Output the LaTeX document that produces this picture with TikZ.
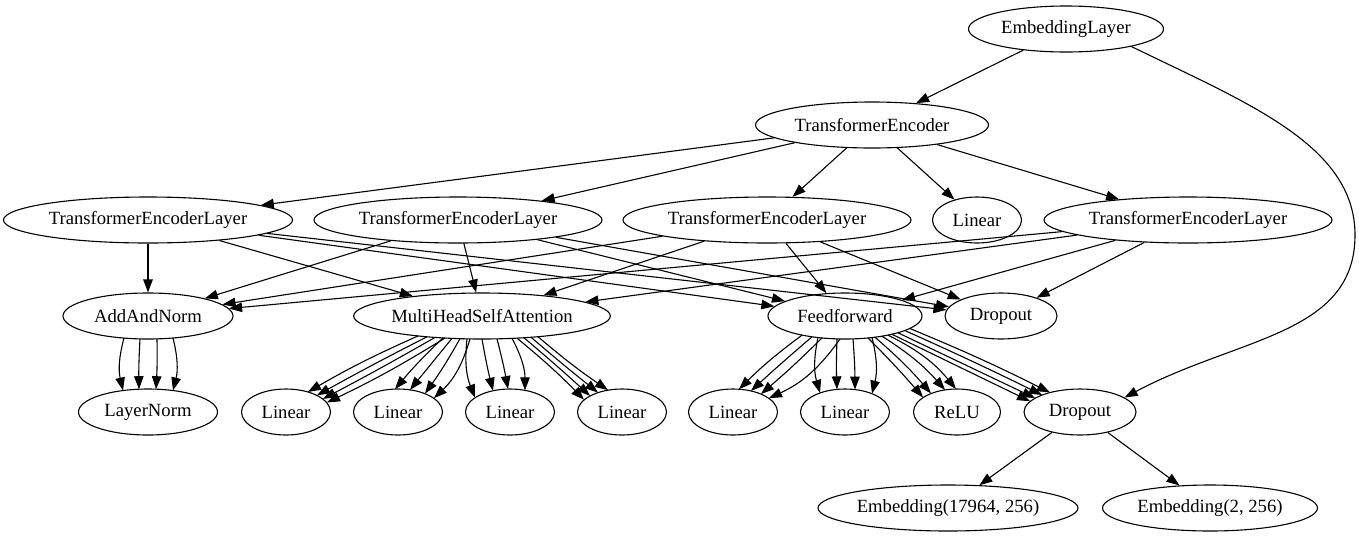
\documentclass[tikz,border=0pt]{standalone}
\usepackage{fontspec}
\setmainfont{Liberation Serif}
\usetikzlibrary{shapes.geometric,arrows.meta,calc}

\tikzset{
  gnode/.style={ellipse, draw, line width=1.1pt, inner sep=0pt,
    minimum height=46pt, font=\fontsize{18.67}{20}\selectfont},
  link/.style={line width=1.1pt, -{Triangle[length=13pt,width=9.5pt]}},
}

% One of several parallel edges between two stacked nodes:
% #1 source, #2 x offset on its lower border, #3 target,
% #4 x offset on its upper border, #5 bend angle.
\newcommand\fan[5]{%
  \draw[link] let \p1=(#1.center), \p2=(#1.east), \p3=(#3.center), \p4=(#3.east),
      \n1={23*sqrt(max(0,1-((#2)/(\x2-\x1))^2))},
      \n2={23*sqrt(max(0,1-((#4)/(\x4-\x3))^2))}
    in ({\x1+(#2pt)},{\y1-\n1}) to[bend left=#5] ({\x3+(#4pt)},{\y3+\n2});}

\begin{document}
\begin{tikzpicture}[x=1pt,y=-1pt]
\fill[white] (0,0) rectangle (1359,539);
\useasboundingbox (0,0) rectangle (1359,539);

% modules
\node[gnode, minimum width=195pt] (emb)  at (1066,29)  {EmbeddingLayer};
\node[gnode, minimum width=233pt] (enc)  at (872,125)  {TransformerEncoder};
\node[gnode, minimum width=289pt] (tel1) at (148,220)  {TransformerEncoderLayer};
\node[gnode, minimum width=288pt] (tel2) at (458,220)  {TransformerEncoderLayer};
\node[gnode, minimum width=288pt] (tel3) at (767,220)  {TransformerEncoderLayer};
\node[gnode, minimum width=89pt]  (lin0) at (977,220)  {Linear};
\node[gnode, minimum width=288pt] (tel4) at (1188,220) {TransformerEncoderLayer};
\node[gnode, minimum width=170pt] (an)   at (148,316)  {AddAndNorm};
\node[gnode, minimum width=255pt] (mhsa) at (482,316)  {MultiHeadSelfAttention};
\node[gnode, minimum width=154pt] (ff)   at (845,316)  {Feedforward};
\node[gnode, minimum width=112pt] (dropA) at (1001,316) {Dropout};
\node[gnode, minimum width=139pt] (ln)   at (148,412)  {LayerNorm};
\node[gnode, minimum width=89pt]  (l1)   at (286,412)  {Linear};
\node[gnode, minimum width=89pt]  (l2)   at (398,412)  {Linear};
\node[gnode, minimum width=89pt]  (l3)   at (510,412)  {Linear};
\node[gnode, minimum width=89pt]  (l4)   at (622,412)  {Linear};
\node[gnode, minimum width=89pt]  (l5)   at (733,412)  {Linear};
\node[gnode, minimum width=89pt]  (l6)   at (845,412)  {Linear};
\node[gnode, minimum width=87pt]  (relu) at (957,412)  {ReLU};
\node[gnode, minimum width=112pt] (dropB) at (1080,412) {Dropout};
\node[gnode, minimum width=260pt] (e1)   at (948,508)  {Embedding(17964, 256)};
\node[gnode, minimum width=215pt] (e2)   at (1210,508) {Embedding(2, 256)};

% top level
\draw[link] (emb) -- (enc);
\draw[link] (emb.-15) .. controls (1247,103) and (1355,145) .. (1355,235)
  .. controls (1355,335) and (1238,337) .. (dropB.18);
\foreach \t in {tel1,tel2,tel3,lin0,tel4} \draw[link] (enc) -- (\t);

% encoder layers
\foreach \s in {tel1,tel2,tel3,tel4}
  \foreach \t in {an,mhsa,ff,dropA}
    \draw[link] (\s) -- (\t);

% embedding dropout
\draw[link] (dropB) -- (e1);
\draw[link] (dropB) -- (e2);

% add & norm
\fan{an}{-24}{ln}{-25}{-14}
\fan{an}{-8}{ln}{-9}{-2}
\fan{an}{9}{ln}{8}{2}
\fan{an}{25}{ln}{25}{14}

% attention projections
\fan{mhsa}{-64}{l1}{22}{-3}
\fan{mhsa}{-55}{l1}{31}{-1}
\fan{mhsa}{-47}{l1}{37}{1}
\fan{mhsa}{-37}{l1}{41}{3}
\fan{mhsa}{-39}{l2}{-3}{-3}
\fan{mhsa}{-30}{l2}{12}{0}
\fan{mhsa}{-22}{l2}{27}{3}
\fan{mhsa}{-12}{l2}{36}{15}
\fan{mhsa}{-15}{l3}{-35}{-14}
\fan{mhsa}{0}{l3}{-17}{-2}
\fan{mhsa}{15}{l3}{-2}{2}
\fan{mhsa}{30}{l3}{15}{14}
\fan{mhsa}{35}{l4}{-38}{3}
\fan{mhsa}{42}{l4}{-32}{1}
\fan{mhsa}{49}{l4}{-24}{-1}
\fan{mhsa}{56}{l4}{-14}{-3}

% feed-forward block
\fan{ff}{-43}{l5}{6}{-4}
\fan{ff}{-33}{l5}{18}{-1}
\fan{ff}{-23}{l5}{28}{2}
\fan{ff}{-5}{l5}{36}{15}
\fan{ff}{-27}{l6}{-25}{-14}
\fan{ff}{-8}{l6}{-8}{-2}
\fan{ff}{8}{l6}{10}{2}
\fan{ff}{27}{l6}{27}{14}
\fan{ff}{23}{relu}{-34}{2}
\fan{ff}{30}{relu}{-26}{4}
\fan{ff}{37}{relu}{-12}{8}
\fan{ff}{43}{relu}{-1}{12}
\fan{ff}{47}{dropB}{-50}{0}
\fan{ff}{53}{dropB}{-45}{0}
\fan{ff}{60}{dropB}{-38}{1}
\fan{ff}{65}{dropB}{-30}{2}
\end{tikzpicture}
\end{document}
